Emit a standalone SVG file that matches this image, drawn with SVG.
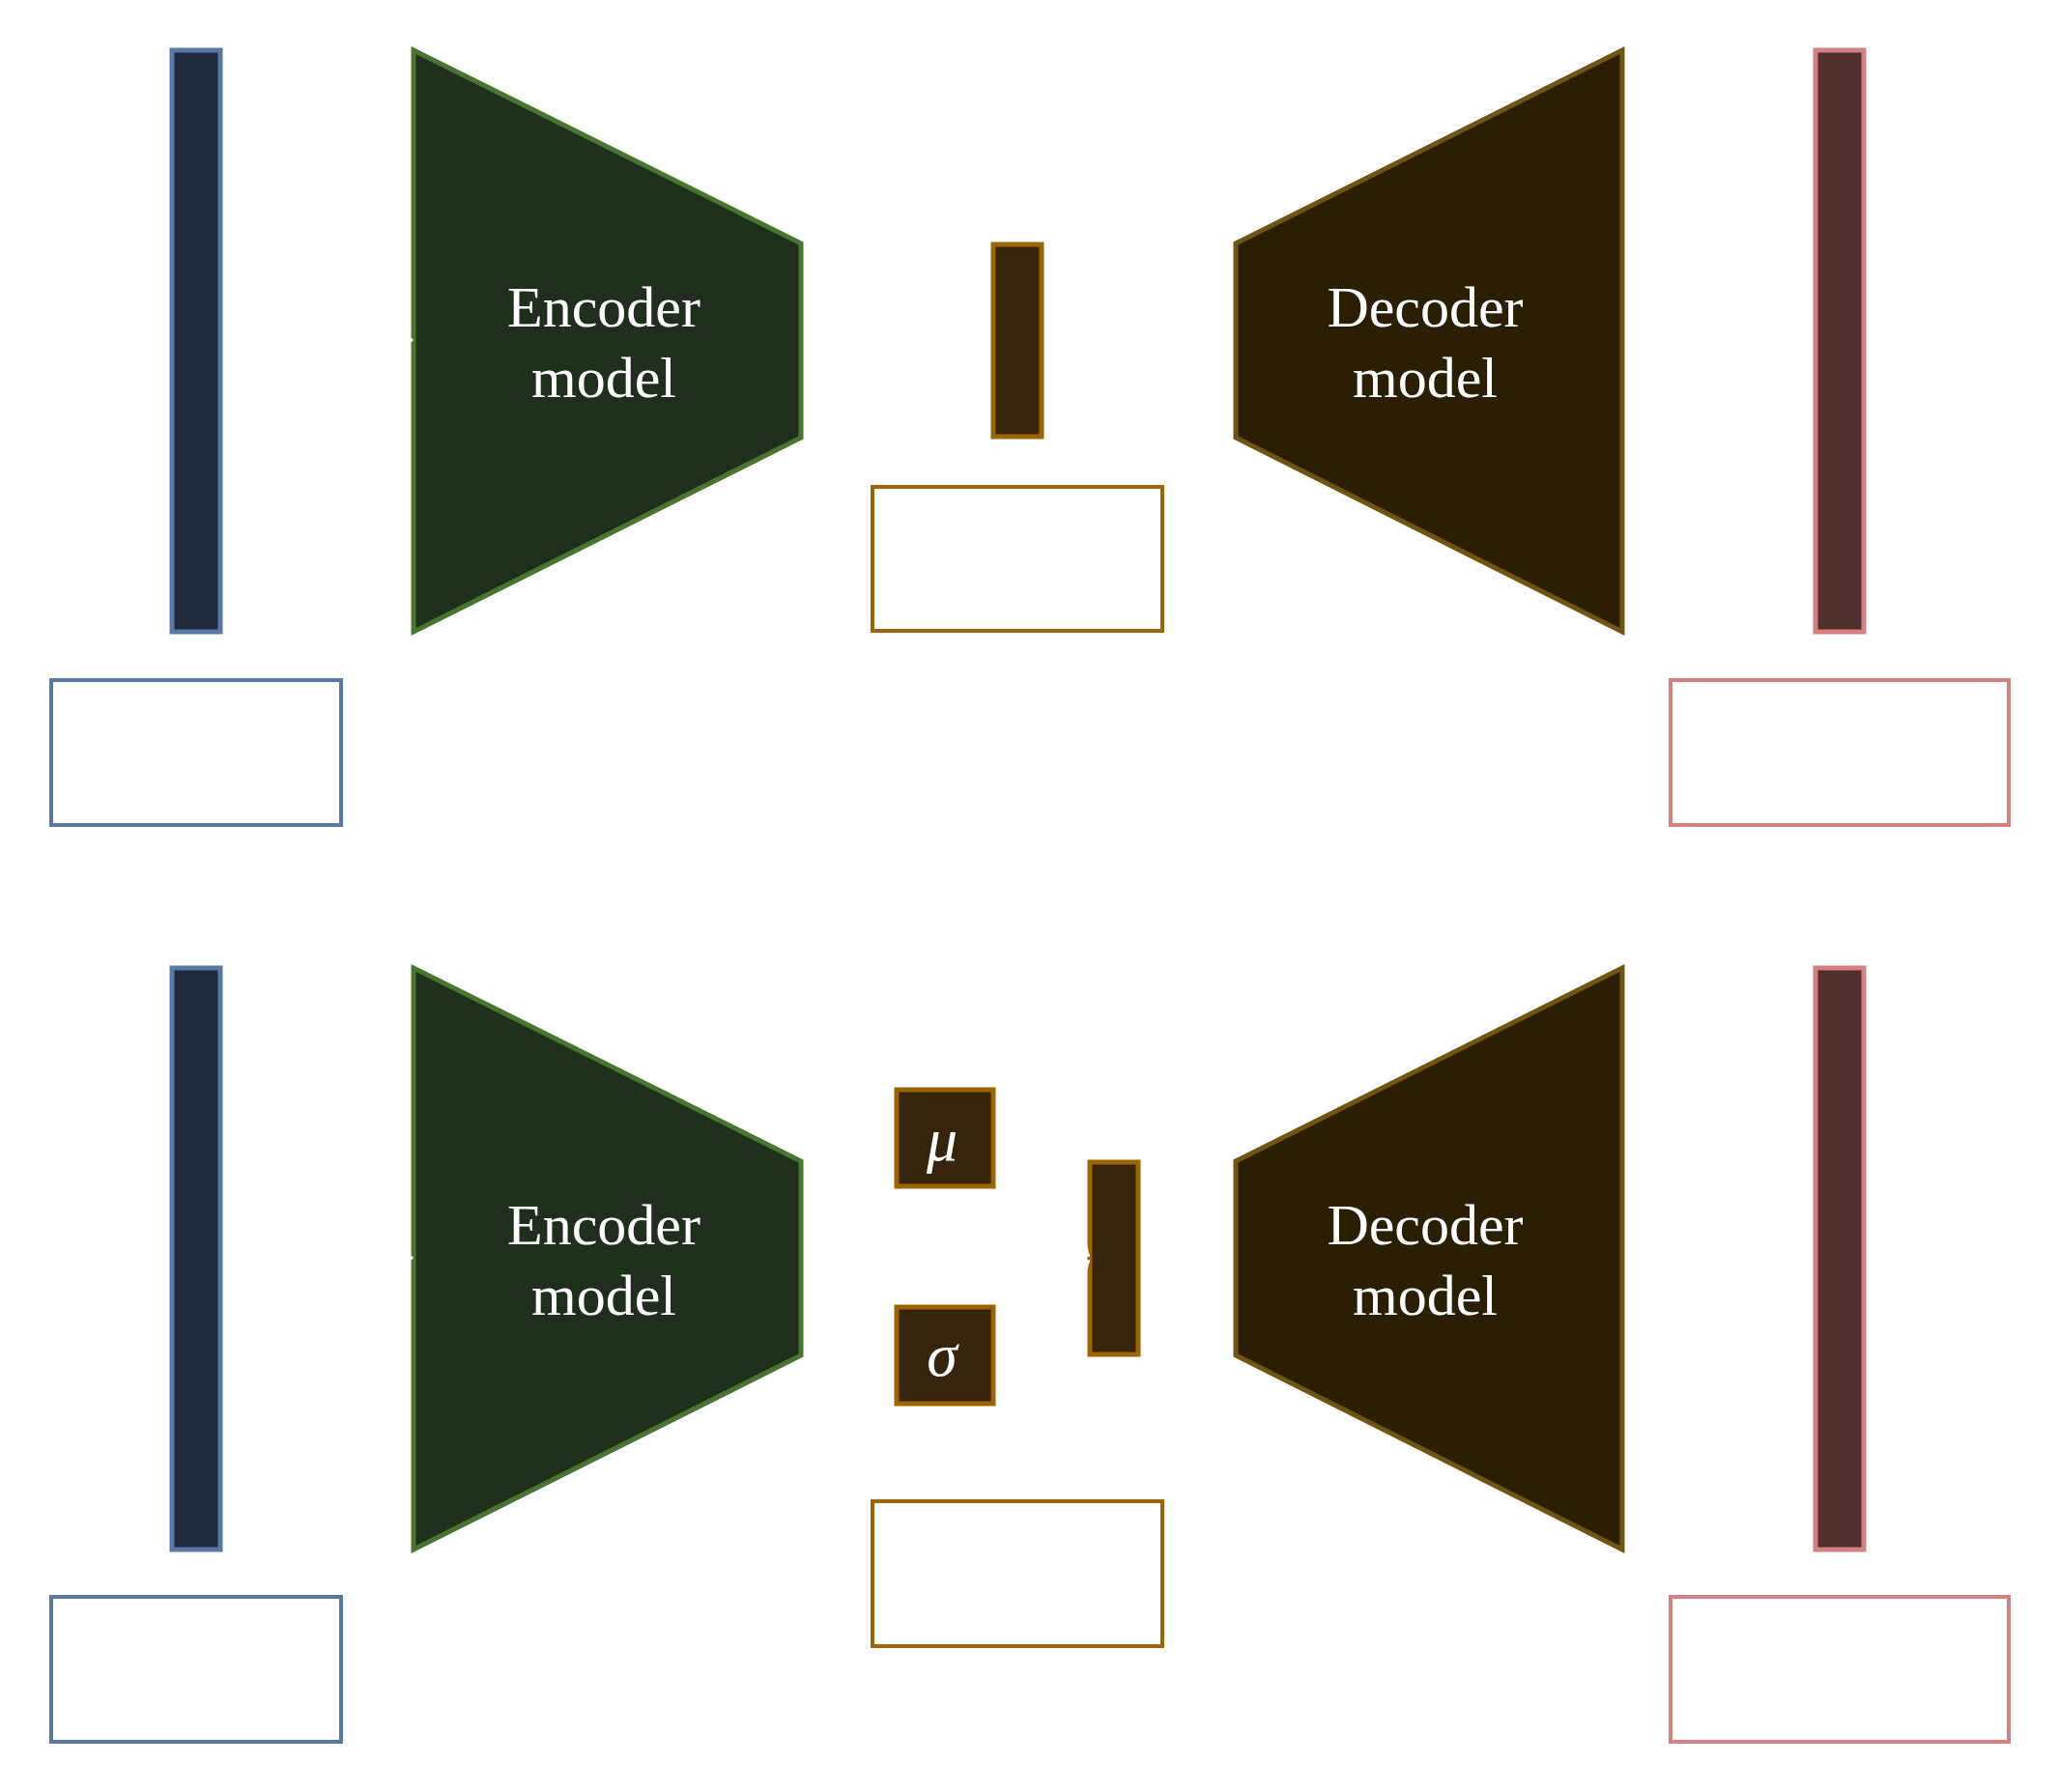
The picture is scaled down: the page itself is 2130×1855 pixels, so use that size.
<svg xmlns="http://www.w3.org/2000/svg" width="2130" height="1855" viewBox="0 0 2130 1855">
<defs>
<style>
.inbar{fill:#1f2a3c;stroke:#5a78a6;stroke-width:5}
.inbox{fill:#ffffff;stroke:#5a78a6;stroke-width:4}
.enc{fill:#202e1e;stroke:#4a7530;stroke-width:5;stroke-linejoin:miter}
.lat{fill:#37240c;stroke:#9c6500;stroke-width:5}
.latbox{fill:#ffffff;stroke:#9c6500;stroke-width:4}
.dec{fill:#2a1f02;stroke:#705510;stroke-width:5;stroke-linejoin:miter}
.outbar{fill:#4f2e2e;stroke:#d48080;stroke-width:5}
.outbox{fill:#ffffff;stroke:#d48080;stroke-width:4}
.lbl{font-family:"Liberation Serif","Times New Roman",serif;font-size:60px;fill:#ffffff;text-anchor:middle}
.sym{font-family:"Liberation Serif","Times New Roman",serif;font-size:64px;font-style:italic;fill:#ffffff;text-anchor:middle}
.conn{fill:none;stroke:#ffffff;stroke-width:3}
</style>
<marker id="arr" viewBox="0 0 10 10" refX="9" refY="5" markerWidth="5" markerHeight="5" orient="auto" markerUnits="strokeWidth">
<path d="M0,0 L10,5 L0,10 z" fill="#ffffff"/>
</marker>
</defs>
<rect width="2130" height="1855" fill="#ffffff"/>

<g id="input-top"><rect class="inbar" x="178" y="52" width="50" height="602"/></g>
<g id="input-label-top"><rect class="inbox" x="53" y="704" width="300" height="150"/></g>
<g id="encoder-top"><polygon class="enc" points="428,52 829,252 829,453 428,654"/>
<text class="lbl" x="625" y="338">Encoder</text><text class="lbl" x="625" y="411">model</text></g>
<g id="latent-top"><rect class="lat" x="1028" y="253" width="50" height="199"/></g>
<g id="latent-label-top"><rect class="latbox" x="903" y="504" width="300" height="149"/></g>
<g id="decoder-top"><polygon class="dec" points="1279,252 1679,52 1679,654 1279,453"/>
<text class="lbl" x="1475" y="338">Decoder</text><text class="lbl" x="1475" y="411">model</text></g>
<g id="output-top"><rect class="outbar" x="1879" y="52" width="50" height="602"/></g>
<g id="output-label-top"><rect class="outbox" x="1729" y="704" width="350" height="150"/></g>

<g id="input-bottom"><rect class="inbar" x="178" y="1002" width="50" height="602"/></g>
<g id="input-label-bottom"><rect class="inbox" x="53" y="1653" width="300" height="150"/></g>
<g id="encoder-bottom"><polygon class="enc" points="428,1002 829,1202 829,1403 428,1604"/>
<text class="lbl" x="625" y="1288">Encoder</text><text class="lbl" x="625" y="1361">model</text></g>
<g id="mu"><rect class="lat" x="928" y="1128" width="100" height="100"/><text class="sym" x="975" y="1201">μ</text></g>
<g id="sigma"><rect class="lat" x="928" y="1353" width="100" height="100"/><text class="sym" x="975" y="1424">σ</text></g>
<g id="latent-bottom"><rect class="lat" x="1128" y="1203" width="50" height="199"/></g>
<g id="latent-label-bottom"><rect class="latbox" x="903" y="1554" width="300" height="150"/></g>
<g id="decoder-bottom"><polygon class="dec" points="1279,1202 1679,1002 1679,1604 1279,1403"/>
<text class="lbl" x="1475" y="1288">Decoder</text><text class="lbl" x="1475" y="1361">model</text></g>
<g id="output-bottom"><rect class="outbar" x="1879" y="1002" width="50" height="602"/></g>
<g id="output-label-bottom"><rect class="outbox" x="1729" y="1653" width="350" height="150"/></g>

<g id="connectors">
<line class="conn" x1="236" y1="352" x2="427" y2="352" marker-end="url(#arr)"/>
<line class="conn" x1="236" y1="1302" x2="427" y2="1302" marker-end="url(#arr)"/>
<line class="conn" x1="1036" y1="1190" x2="1127" y2="1300" marker-end="url(#arr)"/>
<line class="conn" x1="1036" y1="1415" x2="1127" y2="1305" marker-end="url(#arr)"/>
</g>
</svg>
